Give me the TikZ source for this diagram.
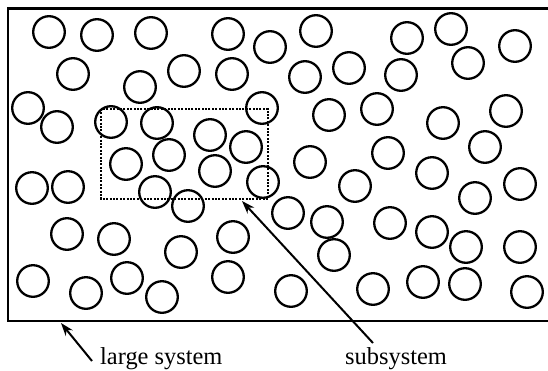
\documentclass[tikz,border=0pt]{standalone}
\usepackage{fontspec}
\setmainfont{Liberation Serif}
\usetikzlibrary{arrows.meta}

\tikzset{
  particle/.style={line width=2.3pt},
  frameline/.style={line width=2.6pt, line join=miter},
  subbox/.style={line width=2pt, dash pattern=on 2pt off 1.4pt},
  pointer/.style={line width=2pt, -{Stealth[length=13pt,width=9pt]}},
  caption/.style={font=\fontsize{24.4}{29}\selectfont, inner sep=0pt, anchor=base west}
}

\begin{document}
\begin{tikzpicture}[x=1pt,y=-1pt]
  \useasboundingbox (0,0) rectangle (548,370);

  % container: open on the right-hand side
  \draw[frameline] (548,8.5) -- (8,8.5) -- (8,321) -- (548,321);

  % molecules
  \foreach \cx/\cy in {
    49/32, 97/35, 151/33, 228/34, 270/47, 316/31, 407/38, 451/29, 515/46,
    73/74, 140/87, 184/71, 232/74, 305/77, 349/68, 401/75, 468/63,
    28/108, 57/127, 111/122, 157/123, 210/135, 246/147, 262/108,
    329/115, 377/109, 443/123, 506/111,
    126/164, 169/155, 215/171, 155/192, 263/182, 188/206,
    310/162, 388/153, 485/147, 432/173, 520/184, 355/186, 475/198,
    32/188, 68/187,
    288/213, 327/222, 390/223, 432/232, 466/247, 520/247, 334/255,
    67/234, 114/239, 181/252, 233/237,
    33/281, 86/293, 127/278, 162/297, 228/277,
    291/291, 373/289, 423/282, 465/284, 527/292}
    \draw[particle] (\cx,\cy) circle[radius=15.8pt];

  % subsystem boundary
  \draw[subbox] (101,109) rectangle (268,199);

  % labels
  \node[caption] (large) at (100,364) {large system};
  \node[caption] (sub) at (345,364) {subsystem};

  \coordinate (largetail) at (92,361);
  \coordinate (largetip) at (61,323);
  \coordinate (subtail) at (373,343);
  \coordinate (subtip) at (242,201);

  \draw[pointer] (largetail) -- (largetip);
  \draw[pointer] (subtail) -- (subtip);
\end{tikzpicture}
\end{document}
